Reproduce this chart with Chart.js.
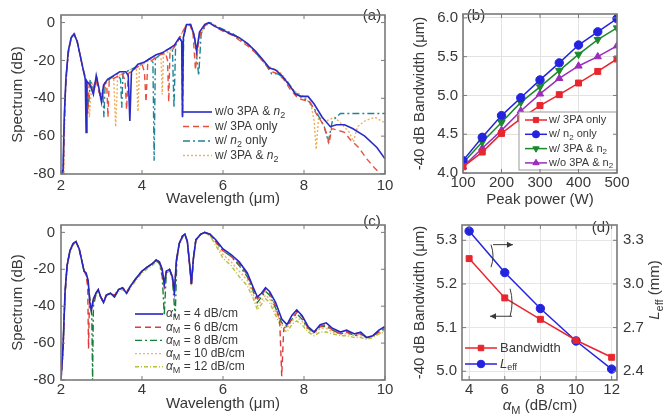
<!DOCTYPE html>
<html>
<head>
<meta charset="utf-8">
<script src="https://cdn.jsdelivr.net/npm/chart.js@4.4.1/dist/chart.umd.min.js"></script>
<style>
  body { margin: 0; background: #fff; }
  #wrap { position: relative; width: 666px; height: 419px; overflow: hidden; }
  canvas { position: absolute; }
</style>
</head>
<body>
<div id="wrap">
  <canvas id="chartA" width="400" height="210" style="left:0;top:0"></canvas>
  <canvas id="chartB" width="266" height="210" style="left:400px;top:0"></canvas>
  <canvas id="chartC" width="400" height="209" style="left:0;top:210px"></canvas>
  <canvas id="chartD" width="266" height="209" style="left:400px;top:210px"></canvas>
</div>
<script>
const FONT = '"Liberation Sans", Arial, Helvetica, sans-serif';
const INK = "#383838";

// (a) spectra for the four nonlinear cases, [wavelength um, dB]
const specNoNL = [[2.00,-80],[2.05,-78],[2.08,-50],[2.12,-30],[2.18,-15],[2.25,-8],[2.32,-6],[2.40,-10],[2.48,-18],[2.55,-25],[2.60,-30],[2.62,-58],[2.64,-31],[2.72,-33],[2.80,-38],[2.87,-28],[2.93,-34],[3.00,-42],[3.05,-33],[3.15,-30],[3.30,-28],[3.45,-26],[3.60,-26],[3.66,-28],[3.70,-52],[3.74,-26],[3.90,-22],[4.05,-21],[4.20,-19],[4.35,-17],[4.50,-16],[4.65,-14],[4.80,-12],[4.92,-8],[4.98,-10],[5.00,-50],[5.02,-8],[5.10,-1],[5.20,-1],[5.28,-6],[5.35,-15],[5.42,-5],[5.55,-1],[5.65,0],[5.80,-2],[6.00,-4],[6.20,-6],[6.40,-8],[6.60,-11],[6.80,-15],[7.00,-20],[7.15,-24],[7.30,-25],[7.45,-28],[7.60,-32],[7.80,-38],[7.95,-39],[8.10,-39],[8.25,-43],[8.45,-50],[8.65,-55],[8.80,-54],[9.00,-54],[9.20,-56],[9.50,-60],[9.80,-66],[10.0,-72]];
const spec3PA = [[2.00,-80],[2.06,-80],[2.09,-45],[2.13,-28],[2.19,-14],[2.26,-8],[2.33,-6],[2.41,-11],[2.49,-19],[2.56,-26],[2.62,-32],[2.66,-48],[2.70,-31],[2.78,-36],[2.86,-30],[2.94,-37],[3.02,-40],[3.08,-32],[3.13,-33],[3.16,-50],[3.19,-31],[3.35,-29],[3.50,-27],[3.58,-30],[3.62,-46],[3.66,-27],[3.85,-24],[4.00,-22],[4.06,-26],[4.10,-42],[4.14,-22],[4.30,-19],[4.45,-17],[4.58,-16],[4.63,-20],[4.66,-42],[4.69,-16],[4.80,-13],[4.90,-9],[5.00,-5],[5.08,-2],[5.18,-1],[5.26,-6],[5.32,-25],[5.38,-12],[5.45,-5],[5.58,-1],[5.68,0],[5.85,-3],[6.05,-5],[6.25,-7],[6.45,-10],[6.65,-13],[6.85,-17],[7.05,-22],[7.20,-26],[7.35,-27],[7.50,-30],[7.65,-35],[7.85,-40],[8.00,-41],[8.15,-42],[8.30,-48],[8.45,-53],[8.55,-58],[8.62,-64],[8.68,-56],[8.85,-57],[9.00,-58],[9.15,-62],[9.35,-66],[9.55,-72],[9.75,-77],[9.90,-80]];
const specN2 = [[2.00,-80],[2.05,-80],[2.08,-55],[2.12,-32],[2.18,-16],[2.25,-8],[2.32,-6],[2.40,-10],[2.48,-18],[2.55,-25],[2.62,-30],[2.68,-45],[2.72,-30],[2.80,-36],[2.88,-29],[2.96,-38],[3.03,-36],[3.06,-50],[3.09,-32],[3.25,-29],[3.40,-27],[3.47,-30],[3.50,-45],[3.53,-27],[3.70,-25],[3.90,-23],[4.05,-21],[4.20,-19],[4.27,-21],[4.30,-73],[4.33,-19],[4.50,-16],[4.65,-14],[4.75,-13],[4.79,-45],[4.83,-12],[4.93,-8],[4.98,-10],[5.00,-50],[5.03,-7],[5.10,-1],[5.20,-1],[5.30,-8],[5.40,-28],[5.46,-6],[5.58,-1],[5.68,0],[5.85,-2],[6.05,-4],[6.25,-6],[6.45,-9],[6.65,-12],[6.85,-17],[7.05,-22],[7.20,-27],[7.35,-27],[7.55,-30],[7.75,-36],[7.95,-40],[8.10,-41],[8.30,-47],[8.50,-55],[8.60,-63],[8.70,-52],[8.90,-48],[9.10,-48],[9.40,-48],[9.70,-48],[10.0,-48]];
const specBoth = [[2.00,-80],[2.07,-80],[2.10,-42],[2.14,-25],[2.20,-13],[2.27,-7],[2.34,-6],[2.42,-11],[2.50,-20],[2.57,-27],[2.63,-31],[2.70,-50],[2.76,-32],[2.84,-34],[2.90,-30],[2.97,-40],[3.04,-34],[3.20,-30],[3.30,-29],[3.35,-55],[3.40,-28],[3.55,-27],[3.70,-25],[3.86,-24],[3.90,-47],[3.94,-23],[4.10,-21],[4.25,-19],[4.40,-18],[4.47,-19],[4.50,-38],[4.53,-17],[4.68,-15],[4.82,-12],[4.93,-8],[5.02,-4],[5.10,-1],[5.20,-2],[5.30,-8],[5.36,-18],[5.43,-7],[5.55,-2],[5.70,0],[5.88,-3],[6.08,-5],[6.28,-7],[6.48,-10],[6.68,-13],[6.88,-18],[7.08,-23],[7.22,-24],[7.40,-26],[7.55,-30],[7.75,-36],[7.92,-38],[8.05,-40],[8.18,-44],[8.25,-52],[8.30,-67],[8.36,-50],[8.55,-52],[8.75,-50],[8.95,-54],[9.12,-58],[9.22,-63],[9.32,-55],[9.50,-52],[9.75,-50],[10.0,-53]];

// (c) spectra for different loss values alpha_M
const specLoss4 = [[2.00,-80],[2.05,-62],[2.10,-32],[2.15,-18],[2.22,-10],[2.30,-6],[2.37,-5],[2.45,-9],[2.52,-16],[2.57,-21],[2.62,-22],[2.67,-26],[2.71,-38],[2.75,-42],[2.80,-36],[2.86,-33],[2.92,-31],[2.98,-35],[3.05,-38],[3.12,-34],[3.22,-33],[3.32,-35],[3.42,-31],[3.52,-30],[3.62,-33],[3.72,-29],[3.85,-25],[4.00,-21],[4.12,-19],[4.25,-17],[4.35,-15],[4.43,-16],[4.50,-20],[4.55,-28],[4.60,-21],[4.68,-20],[4.75,-24],[4.80,-32],[4.85,-15],[4.92,-6],[5.00,-2],[5.06,-1],[5.12,-5],[5.18,-18],[5.22,-28],[5.27,-14],[5.33,-4],[5.45,-1],[5.55,0],[5.68,-1],[5.82,-4],[6.00,-9],[6.20,-12],[6.40,-16],[6.60,-22],[6.75,-30],[6.85,-35],[6.95,-33],[7.05,-30],[7.15,-32],[7.30,-38],[7.45,-47],[7.58,-50],[7.70,-45],[7.82,-42],[7.95,-45],[8.10,-51],[8.25,-54],[8.40,-50],[8.55,-49],[8.70,-52],[8.90,-54],[9.05,-53],[9.25,-55],[9.40,-54],[9.55,-57],[9.70,-56],[9.85,-53],[10.0,-51]];
const specLoss6 = [[2.00,-80],[2.05,-64],[2.10,-33],[2.15,-18],[2.22,-10],[2.30,-6],[2.37,-5],[2.45,-9],[2.52,-16],[2.57,-21],[2.62,-23],[2.66,-30],[2.68,-63],[2.70,-40],[2.75,-41],[2.80,-37],[2.86,-33],[2.92,-31],[2.98,-35],[3.05,-37],[3.12,-34],[3.22,-33],[3.32,-34],[3.42,-31],[3.52,-30],[3.62,-32],[3.72,-29],[3.85,-25],[4.00,-21],[4.12,-19],[4.25,-17],[4.35,-15],[4.43,-16],[4.50,-21],[4.55,-29],[4.60,-21],[4.68,-20],[4.75,-24],[4.80,-33],[4.85,-15],[4.92,-6],[5.00,-2],[5.06,-1],[5.12,-5],[5.18,-19],[5.22,-29],[5.27,-14],[5.33,-4],[5.45,-1],[5.55,0],[5.68,-1],[5.82,-5],[6.00,-10],[6.20,-13],[6.40,-17],[6.60,-23],[6.75,-31],[6.85,-36],[6.95,-34],[7.05,-31],[7.15,-33],[7.30,-40],[7.40,-48],[7.45,-78],[7.50,-52],[7.60,-50],[7.72,-46],[7.84,-43],[7.97,-46],[8.10,-52],[8.25,-54],[8.40,-51],[8.55,-50],[8.70,-53],[8.90,-55],[9.05,-54],[9.25,-55],[9.40,-55],[9.55,-57],[9.70,-56],[9.85,-54],[10.0,-52]];
const specLoss8 = [[2.00,-80],[2.05,-63],[2.10,-33],[2.15,-18],[2.22,-10],[2.30,-6],[2.37,-5],[2.45,-9],[2.52,-16],[2.57,-21],[2.62,-23],[2.67,-27],[2.72,-38],[2.76,-45],[2.78,-80],[2.80,-40],[2.86,-34],[2.92,-32],[2.98,-35],[3.05,-38],[3.12,-34],[3.22,-33],[3.32,-35],[3.42,-31],[3.52,-30],[3.62,-33],[3.72,-29],[3.85,-25],[4.00,-21],[4.12,-19],[4.25,-17],[4.35,-15],[4.43,-17],[4.50,-24],[4.55,-45],[4.60,-22],[4.68,-20],[4.75,-25],[4.82,-46],[4.86,-15],[4.92,-6],[5.00,-2],[5.06,-1],[5.12,-5],[5.18,-18],[5.22,-28],[5.27,-14],[5.33,-4],[5.45,-1],[5.55,0],[5.68,-1],[5.82,-5],[6.00,-10],[6.20,-13],[6.40,-18],[6.60,-24],[6.75,-32],[6.85,-38],[6.95,-35],[7.05,-32],[7.15,-34],[7.30,-41],[7.45,-49],[7.58,-51],[7.70,-47],[7.82,-44],[7.95,-47],[8.10,-52],[8.25,-54],[8.40,-51],[8.55,-51],[8.70,-53],[8.90,-55],[9.05,-54],[9.25,-56],[9.40,-55],[9.55,-57],[9.70,-56],[9.85,-54],[10.0,-52]];
const specLoss10 = [[2.00,-80],[2.05,-64],[2.10,-34],[2.15,-19],[2.22,-10],[2.30,-6],[2.37,-5],[2.45,-9],[2.52,-16],[2.57,-21],[2.62,-23],[2.67,-27],[2.72,-37],[2.75,-43],[2.80,-37],[2.86,-33],[2.92,-31],[2.98,-35],[3.05,-38],[3.12,-34],[3.22,-33],[3.32,-35],[3.42,-31],[3.52,-30],[3.62,-33],[3.72,-29],[3.85,-25],[4.00,-21],[4.12,-19],[4.25,-17],[4.35,-15],[4.43,-16],[4.50,-21],[4.55,-30],[4.60,-21],[4.68,-20],[4.75,-24],[4.80,-34],[4.85,-15],[4.92,-6],[5.00,-2],[5.06,-1],[5.12,-5],[5.18,-18],[5.22,-28],[5.27,-14],[5.33,-4],[5.45,-1],[5.55,0],[5.68,-2],[5.82,-6],[6.00,-12],[6.20,-16],[6.40,-21],[6.60,-26],[6.75,-34],[6.85,-40],[6.95,-37],[7.05,-34],[7.15,-36],[7.30,-43],[7.45,-50],[7.58,-52],[7.70,-48],[7.82,-46],[7.95,-48],[8.10,-53],[8.25,-55],[8.40,-52],[8.55,-52],[8.70,-54],[8.90,-55],[9.05,-55],[9.25,-56],[9.40,-56],[9.55,-57],[9.70,-56],[9.85,-55],[10.0,-53]];
const specLoss12 = [[2.00,-80],[2.05,-65],[2.10,-35],[2.15,-19],[2.22,-11],[2.30,-7],[2.37,-5],[2.45,-9],[2.52,-16],[2.57,-21],[2.62,-23],[2.67,-28],[2.72,-37],[2.75,-42],[2.80,-37],[2.86,-34],[2.92,-32],[2.98,-35],[3.05,-38],[3.12,-35],[3.22,-33],[3.32,-35],[3.42,-32],[3.52,-31],[3.62,-33],[3.72,-30],[3.85,-26],[4.00,-22],[4.12,-20],[4.25,-18],[4.35,-16],[4.43,-17],[4.50,-22],[4.55,-29],[4.60,-22],[4.68,-21],[4.75,-25],[4.80,-33],[4.85,-16],[4.92,-7],[5.00,-3],[5.06,-1],[5.12,-5],[5.18,-19],[5.22,-29],[5.27,-15],[5.33,-5],[5.45,-1],[5.55,0],[5.68,-2],[5.82,-7],[6.00,-14],[6.20,-18],[6.40,-24],[6.60,-29],[6.75,-36],[6.85,-42],[6.95,-39],[7.05,-36],[7.15,-38],[7.30,-45],[7.45,-52],[7.58,-54],[7.70,-50],[7.82,-48],[7.95,-50],[8.10,-54],[8.25,-56],[8.40,-54],[8.55,-54],[8.70,-55],[8.90,-56],[9.05,-56],[9.25,-57],[9.40,-57],[9.55,-58],[9.70,-57],[9.85,-55],[10.0,-54]];
const specTicksX = [2, 4, 6, 8, 10];
const specTicksY = [-80, -60, -40, -20, 0];

// (b) -40 dB bandwidth vs peak power
const peakPower = [100, 150, 200, 250, 300, 350, 400, 450, 500];
const bw3PAonly = [4.08, 4.27, 4.51, 4.70, 4.87, 5.01, 5.16, 5.31, 5.47];
const bwN2only = [4.16, 4.46, 4.74, 4.97, 5.20, 5.42, 5.65, 5.82, 5.99];
const bwBoth = [4.13, 4.40, 4.65, 4.91, 5.11, 5.32, 5.53, 5.72, 5.87];
const bwNone = [4.08, 4.32, 4.55, 4.80, 5.02, 5.22, 5.38, 5.50, 5.64];
const powerTicks = [100, 200, 300, 400, 500];
const bwTicks = [4.0, 4.5, 5.0, 5.5, 6.0];

// (d) bandwidth and effective length vs loss
const lossAlpha = [4, 6, 8, 10, 12];
const bwVsLoss = [5.258, 5.168, 5.119, 5.071, 5.032];
const lEffVsLoss = [3.363, 3.078, 2.831, 2.608, 2.415];
const lossTicks = [4, 6, 8, 10, 12];
const bwLossTicks = [5.0, 5.1, 5.2, 5.3];
const lEffTicks = [2.4, 2.7, 3.0, 3.3];

const pts = (arr) => arr.map((p) => ({ x: p[0], y: p[1] }));
const zip = (xs, ys) => xs.map((x, i) => ({ x: x, y: ys[i] }));

// text with *italic* and _{subscript} parts
function richParts(str) {
  const parts = [];
  str.replace(/\*([^*]+)\*|_\{([^}]+)\}|([^*_]+)/g, (m, it, sub, plain) => {
    if (it) parts.push({ t: it, it: true });
    else if (sub) parts.push({ t: sub, sub: true });
    else parts.push({ t: plain });
  });
  return parts;
}
function drawRich(ctx, str, x, y, size, align) {
  const parts = richParts(str);
  const fontOf = (p) => (p.it ? "italic " : "") + (p.sub ? Math.round(size * 0.72) : size) + "px " + FONT;
  let w = 0;
  parts.forEach((p) => { ctx.font = fontOf(p); w += ctx.measureText(p.t).width; });
  let cx = align === "center" ? x - w / 2 : x;
  ctx.textAlign = "left";
  ctx.textBaseline = "middle";
  parts.forEach((p) => {
    ctx.font = fontOf(p);
    ctx.fillText(p.t, cx, y + (p.sub ? size * 0.3 : 0));
    cx += ctx.measureText(p.t).width;
  });
}
function drawMarker(ctx, style, r, rot, x, y) {
  ctx.beginPath();
  if (style === "rect") {
    ctx.rect(x - r * 0.72, y - r * 0.72, r * 1.44, r * 1.44);
  } else if (style === "triangle") {
    const s = rot ? -1 : 1;
    ctx.moveTo(x, y - s * r);
    ctx.lineTo(x + r * 0.87, y + s * r * 0.5);
    ctx.lineTo(x - r * 0.87, y + s * r * 0.5);
    ctx.closePath();
  } else {
    ctx.arc(x, y, r, 0, Math.PI * 2);
  }
  ctx.fill();
  ctx.stroke();
}

// box around the plot plus inward tick marks
const framePlugin = {
  id: "frame",
  afterDraw(chart) {
    const { ctx, chartArea: a } = chart;
    const tl = 4;
    ctx.save();
    ctx.strokeStyle = "#7a7a7a";
    ctx.lineWidth = 1;
    ctx.beginPath();
    const sx = chart.scales.x;
    sx.ticks.forEach((t) => {
      const px = sx.getPixelForValue(t.value);
      ctx.moveTo(px, a.bottom); ctx.lineTo(px, a.bottom - tl);
      ctx.moveTo(px, a.top); ctx.lineTo(px, a.top + tl);
    });
    const sy = chart.scales.y, sy2 = chart.scales.y2;
    sy.ticks.forEach((t) => {
      const py = sy.getPixelForValue(t.value);
      ctx.moveTo(a.left, py); ctx.lineTo(a.left + tl, py);
      if (!sy2) { ctx.moveTo(a.right, py); ctx.lineTo(a.right - tl, py); }
    });
    if (sy2) {
      sy2.ticks.forEach((t) => {
        const py = sy2.getPixelForValue(t.value);
        ctx.moveTo(a.right, py); ctx.lineTo(a.right - tl, py);
      });
    }
    ctx.stroke();
    ctx.lineWidth = 1.6;
    ctx.strokeRect(a.left, a.top, a.right - a.left, a.bottom - a.top);
    ctx.restore();
  },
};

const lineKeyPlugin = {
  id: "lineKey",
  afterDraw(chart, args, o) {
    if (!o || o.x === undefined) return;
    const ctx = chart.ctx;
    ctx.save();
    if (o.box) {
      ctx.fillStyle = "#fff";
      ctx.strokeStyle = "#9a9a9a";
      ctx.lineWidth = 1;
      ctx.fillRect(o.box[0], o.box[1], o.box[2], o.box[3]);
      ctx.strokeRect(o.box[0], o.box[1], o.box[2], o.box[3]);
    }
    chart.data.datasets.forEach((ds, i) => {
      const y = o.y + i * o.rowH;
      ctx.strokeStyle = ds.borderColor;
      ctx.lineWidth = ds.borderWidth;
      ctx.setLineDash(ds.borderDash || []);
      ctx.beginPath();
      ctx.moveTo(o.x, y);
      ctx.lineTo(o.x + o.len, y);
      ctx.stroke();
      ctx.setLineDash([]);
      if (ds.pointRadius) {
        ctx.fillStyle = ds.backgroundColor;
        ctx.lineWidth = 1;
        drawMarker(ctx, ds.pointStyle, o.marker || ds.pointRadius, ds.pointRotation, o.x + o.len / 2, y);
      }
      ctx.fillStyle = INK;
      drawRich(ctx, ds.label, o.x + o.len + o.gap, y, o.size, "left");
    });
    ctx.restore();
  },
};

const notesPlugin = {
  id: "notes",
  afterDraw(chart, args, o) {
    if (!o || !o.items) return;
    const ctx = chart.ctx;
    o.items.forEach((n) => {
      ctx.save();
      ctx.fillStyle = INK;
      ctx.translate(n.x, n.y);
      if (n.rot) ctx.rotate(n.rot);
      drawRich(ctx, n.text, 0, 0, n.size, "center");
      ctx.restore();
    });
  },
};

// bracket + arrow pointing to the axis a curve belongs to
const arrowPlugin = {
  id: "axisArrows",
  afterDraw(chart, args, o) {
    if (!o || !o.items) return;
    const ctx = chart.ctx;
    const sx = chart.scales.x;
    ctx.save();
    ctx.strokeStyle = "#3a3a3a";
    ctx.fillStyle = "#3a3a3a";
    ctx.lineWidth = 1;
    o.items.forEach((a) => {
      const sy = chart.scales[a.axis];
      const x = sx.getPixelForValue(a.x), x2 = sx.getPixelForValue(a.xTo);
      const yT = sy.getPixelForValue(a.yTop), yB = sy.getPixelForValue(a.yBot);
      const ya = a.fromBottom ? yB : yT;
      ctx.beginPath();
      ctx.moveTo(x - 2, yT);
      ctx.quadraticCurveTo(x + 2, (yT + yB) / 2, x - 2, yB);
      ctx.stroke();
      ctx.beginPath();
      ctx.moveTo(x, ya);
      ctx.lineTo(x2, ya);
      ctx.stroke();
      const d = x2 > x ? 1 : -1;
      ctx.beginPath();
      ctx.moveTo(x2, ya);
      ctx.lineTo(x2 - d * 6, ya - 3);
      ctx.lineTo(x2 - d * 6, ya + 3);
      ctx.closePath();
      ctx.fill();
    });
    ctx.restore();
  },
};

Chart.register(lineKeyPlugin, notesPlugin, arrowPlugin, framePlugin);
Chart.defaults.font.family = FONT;
Chart.defaults.color = INK;

function fixedTicks(vals) {
  return (scale) => { scale.ticks = vals.map((v) => ({ value: v })); };
}
function axis(extra) {
  const base = {
    type: "linear",
    border: { display: false },
    grid: { display: false, drawTicks: false },
    ticks: { font: { size: 15 }, color: INK, autoSkip: false, maxRotation: 0 },
  };
  const out = Object.assign({}, base, extra);
  out.ticks = Object.assign({}, base.ticks, extra.ticks || {});
  if (extra.grid) out.grid = Object.assign({}, base.grid, extra.grid);
  return out;
}
function line(label, data, color, dash, width) {
  return { label: label, data: data, borderColor: color, backgroundColor: color, borderDash: dash, borderWidth: width || 1.4, pointRadius: 0, fill: false, tension: 0 };
}
function marked(label, data, color, style, rot) {
  return { label: label, data: data, borderColor: color, backgroundColor: color, borderWidth: 1.5, pointStyle: style, pointRotation: rot || 0, pointRadius: 4.2, pointBorderWidth: 1, tension: 0, yAxisID: "y" };
}
const common = {
  responsive: false,
  animation: false,
  events: [],
};

// (a)
new Chart(document.getElementById("chartA"), {
  type: "line",
  data: {
    datasets: [
      line("w/o 3PA & *n*_{2}", pts(specNoNL), "#2b2bc6", [], 1.6),
      line("w/ 3PA only", pts(spec3PA), "#e8503c", [6, 4]),
      line("w/ *n*_{2} only", pts(specN2), "#1e8494", [7, 3, 2, 3]),
      line("w/ 3PA & *n*_{2}", pts(specBoth), "#f2ad5a", [2, 2]),
    ],
  },
  options: Object.assign({}, common, {
    layout: { padding: { top: 8, right: 15, left: 0, bottom: 0 } },
    plugins: {
      legend: { display: false },
      tooltip: { enabled: false },
      lineKey: { x: 183, y: 112, rowH: 14.5, len: 29, gap: 3, size: 12 },
      notes: { items: [{ text: "(a)", x: 372, y: 16, size: 15 }] },
    },
    scales: {
      x: axis({ min: 2, max: 10, afterBuildTicks: fixedTicks(specTicksX), afterFit: (s) => { s.height = 36; }, ticks: { padding: 3 },
        title: { display: true, text: "Wavelength (μm)", font: { size: 15 }, color: INK, padding: { top: 0, bottom: 2 } } }),
      y: axis({ min: -80, max: 4, afterBuildTicks: fixedTicks(specTicksY), afterFit: (s) => { s.width = 61; }, ticks: { padding: 6 },
        title: { display: true, text: "Spectrum (dB)", font: { size: 15 }, color: INK, padding: { top: 9, bottom: 0 } } }),
    },
  }),
});

// (b)
new Chart(document.getElementById("chartB"), {
  type: "line",
  data: {
    datasets: [
      marked("w/ 3PA only", zip(peakPower, bw3PAonly), "#e8262e", "rect"),
      marked("w/ n_{2} only", zip(peakPower, bwN2only), "#2323e0", "circle"),
      marked("w/ 3PA & n_{2}", zip(peakPower, bwBoth), "#1b8a2c", "triangle", 180),
      marked("w/o 3PA & n_{2}", zip(peakPower, bwNone), "#9b2cbc", "triangle"),
    ],
  },
  options: Object.assign({}, common, {
    layout: { padding: { top: 9, right: 49, left: 0, bottom: 0 } },
    plugins: {
      legend: { display: false },
      tooltip: { enabled: false },
      lineKey: { x: 125, y: 120, rowH: 14.3, len: 22, gap: 2, size: 11, marker: 3.6, box: [119, 112, 98, 58] },
      notes: { items: [{ text: "(b)", x: 76, y: 16, size: 15 }] },
    },
    scales: {
      x: axis({ min: 100, max: 500, afterBuildTicks: fixedTicks(powerTicks), afterFit: (s) => { s.height = 37; }, ticks: { padding: 1 },
        grid: { display: true, drawTicks: false, color: "#e2e2e2" },
        title: { display: true, text: "Peak power (W)", font: { size: 15 }, color: INK, padding: { top: 0, bottom: 1 } } }),
      y: axis({ min: 4, max: 6.05, afterBuildTicks: fixedTicks(bwTicks), afterFit: (s) => { s.width = 63; }, ticks: { padding: 5, callback: (v) => v.toFixed(1) },
        grid: { display: true, drawTicks: false, color: "#e2e2e2" },
        title: { display: true, text: "-40 dB Bandwidth (μm)", font: { size: 15 }, color: INK, padding: { top: 11, bottom: 0 } } }),
    },
  }),
});

// (c)
new Chart(document.getElementById("chartC"), {
  type: "line",
  data: {
    datasets: [
      line("*α*_{M} = 4 dB/cm", pts(specLoss4), "#2626c4", [], 1.6),
      line("*α*_{M} = 6 dB/cm", pts(specLoss6), "#e23a3a", [6, 4]),
      line("*α*_{M} = 8 dB/cm", pts(specLoss8), "#16803a", [7, 3, 2, 3]),
      line("*α*_{M} = 10 dB/cm", pts(specLoss10), "#f4ae6e", [2, 2]),
      line("*α*_{M} = 12 dB/cm", pts(specLoss12), "#b4c23a", [4, 2, 1, 2]),
    ],
  },
  options: Object.assign({}, common, {
    layout: { padding: { top: 6, right: 15, left: 0, bottom: 0 } },
    plugins: {
      legend: { display: false },
      tooltip: { enabled: false },
      lineKey: { x: 135, y: 104, rowH: 13.2, len: 28, gap: 3, size: 12 },
      notes: { items: [{ text: "(c)", x: 372, y: 12, size: 15 }] },
    },
    scales: {
      x: axis({ min: 2, max: 10, afterBuildTicks: fixedTicks(specTicksX), afterFit: (s) => { s.height = 39; }, ticks: { padding: 1 },
        title: { display: true, text: "Wavelength (μm)", font: { size: 15 }, color: INK, padding: { top: 0, bottom: 6 } } }),
      y: axis({ min: -80, max: 4, afterBuildTicks: fixedTicks(specTicksY), afterFit: (s) => { s.width = 61; }, ticks: { padding: 6 },
        title: { display: true, text: "Spectrum (dB)", font: { size: 15 }, color: INK, padding: { top: 9, bottom: 0 } } }),
    },
  }),
});

// (d)
const dSets = [
  marked("Bandwidth", zip(lossAlpha, bwVsLoss), "#e8262e", "rect"),
  marked("*L*_{eff}", zip(lossAlpha, lEffVsLoss), "#2323e0", "circle"),
];
dSets[1].yAxisID = "y2";
new Chart(document.getElementById("chartD"), {
  type: "line",
  data: { datasets: dSets },
  options: Object.assign({}, common, {
    layout: { padding: { top: 5, right: 0, left: 0, bottom: 0 } },
    plugins: {
      legend: { display: false },
      tooltip: { enabled: false },
      lineKey: { x: 65, y: 138, rowH: 16, len: 32, gap: 3, size: 13, marker: 3.8 },
      notes: { items: [
        { text: "(d)", x: 201, y: 18, size: 15 },
        { text: "*α*_{M} (dB/cm)", x: 140, y: 196, size: 15 },
        { text: "*L*_{eff} (mm)", x: 255, y: 80, size: 15, rot: -Math.PI / 2 },
      ] },
      axisArrows: { items: [
        { axis: "y2", x: 5.34, xTo: 6.46, yTop: 3.27, yBot: 3.115 },
        { axis: "y", x: 6.41, xTo: 5.17, yTop: 5.189, yBot: 5.126, fromBottom: true },
      ] },
    },
    scales: {
      x: axis({ min: 3.6, max: 12.3, afterBuildTicks: fixedTicks(lossTicks), afterFit: (s) => { s.height = 39; }, ticks: { padding: 1 },
        grid: { display: true, drawTicks: false, color: "#e6e6e6" } }),
      y: axis({ position: "left", min: 4.98, max: 5.335, afterBuildTicks: fixedTicks(bwLossTicks), afterFit: (s) => { s.width = 62; }, ticks: { padding: 5, callback: (v) => v.toFixed(1) },
        grid: { display: true, drawTicks: false, color: "#e6e6e6" },
        title: { display: true, text: "-40 dB Bandwidth (μm)", font: { size: 15 }, color: INK, padding: { top: 11, bottom: 0 } } }),
      y2: axis({ position: "right", min: 2.34, max: 3.405, afterBuildTicks: fixedTicks(lEffTicks), afterFit: (s) => { s.width = 49; }, ticks: { padding: 6, callback: (v) => v.toFixed(1) } }),
    },
  }),
});
</script>
</body>
</html>
